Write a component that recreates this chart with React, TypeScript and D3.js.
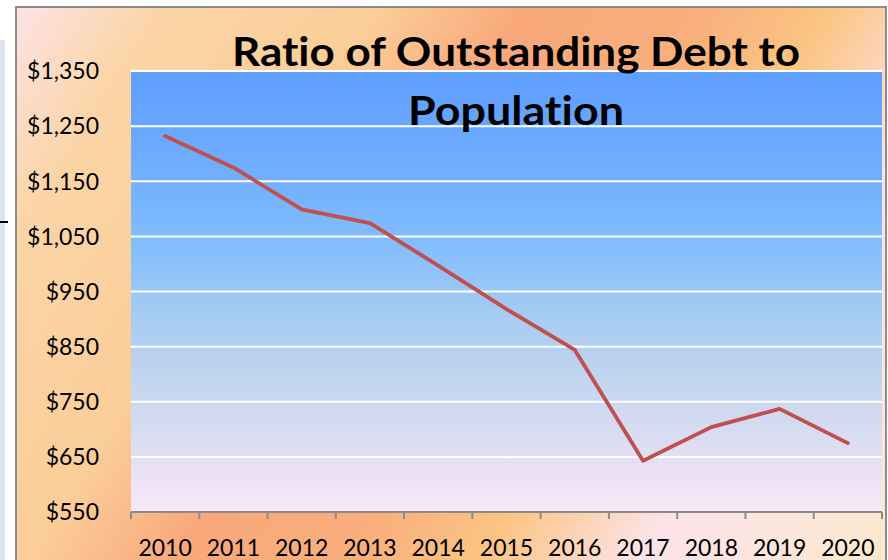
import React from "react";
import * as d3 from "d3";

const years = ["2010", "2011", "2012", "2013", "2014", "2015", "2016", "2017", "2018", "2019", "2020"];
const ratio = [1232, 1175, 1099, 1074, 997, 918, 844, 643, 704, 737, 675];
const yTicks = [550, 650, 750, 850, 950, 1050, 1150, 1250, 1350];
const titleLines = ["Ratio of Outstanding Debt to", "Population"];

const W = 888;
const H = 560;
const plot = { left: 131, right: 882, top: 71, bottom: 512 };

export default function App() {
  const x = d3.scaleBand<string>().domain(years).range([plot.left, plot.right]).padding(0);
  const y = d3.scaleLinear().domain([550, 1350]).range([plot.bottom, plot.top]);
  const line = d3
    .line<number>()
    .x((_, i) => (x(years[i]) as number) + x.bandwidth() / 2)
    .y((d) => y(d));
  const tickXs = years.map((yr) => x(yr) as number).concat([plot.right]);
  const fmt = (v: number) => "$" + d3.format(",")(v);

  return (
    <svg
      width={W}
      height={H}
      style={{ position: "absolute", left: 0, top: 0, display: "block", fontVariantLigatures: "none" }}
      fontFamily="Lato, 'Open Sans', sans-serif"
    >
      <defs>
        <linearGradient id="frameGrad" gradientUnits="userSpaceOnUse" x1={15} y1={7} x2={886} y2={560}>
          <stop offset="0" stopColor="#fde2e6" />
          <stop offset="0.12" stopColor="#fbd5a6" />
          <stop offset="0.3" stopColor="#fbcd98" />
          <stop offset="0.42" stopColor="#f8a87b" />
          <stop offset="0.56" stopColor="#f9ae7c" />
          <stop offset="0.67" stopColor="#fbc583" />
          <stop offset="0.8" stopColor="#fde3ea" />
          <stop offset="1" stopColor="#fce8cc" />
        </linearGradient>
        <linearGradient id="plotGrad" x1="0" y1="0" x2="0" y2="1">
          <stop offset="0" stopColor="#5e9eff" />
          <stop offset="0.25" stopColor="#72b0fe" />
          <stop offset="0.4" stopColor="#84befd" />
          <stop offset="0.55" stopColor="#a5cbf4" />
          <stop offset="0.7" stopColor="#c3d5ee" />
          <stop offset="0.85" stopColor="#dcdef2" />
          <stop offset="1" stopColor="#fbe8f8" />
        </linearGradient>
      </defs>

      <rect x={0} y={0} width={W} height={H} fill="#ffffff" />
      <rect x={0} y={40} width={5} height={H - 40} fill="#dbe5f1" />
      <line x1={0} x2={8} y1={222} y2={222} stroke="#000" strokeWidth={2} />

      {/* chart frame */}
      <rect x={16} y={7} width={870} height={H} fill="url(#frameGrad)" stroke="#8c8c8c" strokeWidth={2} />

      {/* plot area */}
      <rect
        x={plot.left}
        y={plot.top}
        width={plot.right - plot.left}
        height={plot.bottom - plot.top}
        fill="url(#plotGrad)"
      />

      {/* gridlines */}
      {yTicks.slice(1).map((v) => (
        <line key={v} x1={plot.left} x2={plot.right} y1={y(v)} y2={y(v)} stroke="#ffffff" strokeWidth={2} />
      ))}

      {/* y labels */}
      {yTicks.map((v) => (
        <text key={v} x={99} y={y(v)} dy="0.36em" textAnchor="end" fontSize={23} fill="#000">
          {fmt(v)}
        </text>
      ))}

      {/* x axis */}
      <line x1={plot.left} x2={plot.right} y1={plot.bottom} y2={plot.bottom} stroke="#8c8c8c" strokeWidth={2} />
      {tickXs.map((tx, i) => (
        <line key={i} x1={tx} x2={tx} y1={plot.bottom} y2={plot.bottom + 7} stroke="#8c8c8c" strokeWidth={2} />
      ))}
      {years.map((yr) => (
        <text
          key={yr}
          x={(x(yr) as number) + x.bandwidth() / 2}
          y={556}
          textAnchor="middle"
          fontSize={23}
          fill="#000"
        >
          {yr}
        </text>
      ))}

      {/* data line */}
      <path
        d={line(ratio) || ""}
        fill="none"
        stroke="#c0504d"
        strokeWidth={3.8}
        strokeLinejoin="round"
        strokeLinecap="round"
      />

      {/* title */}
      <text
        x={516}
        y={66}
        textAnchor="middle"
        fontSize={40}
        fontWeight={700}
        fill="#000"
        textLength={568}
        lengthAdjust="spacingAndGlyphs"
      >
        {titleLines[0]}
      </text>
      <text
        x={516}
        y={125}
        textAnchor="middle"
        fontSize={40}
        fontWeight={700}
        fill="#000"
        textLength={216}
        lengthAdjust="spacingAndGlyphs"
      >
        {titleLines[1]}
      </text>
    </svg>
  );
}
